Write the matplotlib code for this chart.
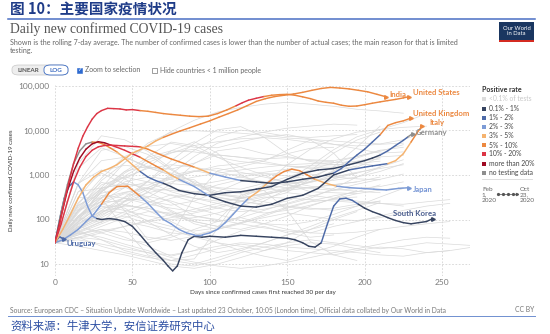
import numpy as np
import matplotlib
matplotlib.use("Agg")
import matplotlib.pyplot as plt
from matplotlib.collections import LineCollection
from matplotlib.patches import FancyBboxPatch, Rectangle
from matplotlib.lines import Line2D

plt.rcParams['font.family'] = ['Lato', 'DejaVu Sans']

# ---------------- data ----------------
rate_labels = ['<0.1% of tests', '0.1% - 1%', '1% - 2%', '2% - 3%', '3% - 5%',
               '5% - 10%', '10% - 20%', 'more than 20%', 'no testing data']
rate_colors = ['#dcdcdc', '#36435f', '#4d6aa8', '#7c9bd6', '#f5b36f',
               '#ec8840', '#dc3545', '#9f0a22', '#8e8e8e']

x_ticks = [0, 50, 100, 150, 200, 250]
y_ticks = [10, 100, 1000, 10000, 100000]
y_tick_labels = ['10', '100', '1,000', '10,000', '100,000']

us_days = [0, 3, 6, 9, 12, 15, 18, 21, 24, 27, 30, 34, 38, 42, 46, 50, 55, 60, 65, 70,
           75, 81, 87, 93, 99, 105, 111, 117, 121, 125, 130, 135, 140, 145, 150, 155, 160,
           165, 170, 175, 180, 185, 190, 195, 200, 205, 210, 215, 220, 225, 229]
us_cases = [30, 80, 250, 700, 1800, 4000, 7500, 12000, 18000, 24000, 28000, 31500, 31000,
            30500, 29000, 29500, 28000, 27000, 25500, 24000, 23000, 22000, 21000, 20500,
            21000, 24000, 29000, 36000, 42000, 48000, 53000, 58000, 62000, 64000, 65000,
            62000, 57000, 52000, 46000, 43000, 41000, 37000, 35000, 35500, 38000, 41000,
            44000, 47000, 50000, 54000, 58000]
us_rate_from = [0, 55, 117, 135]
us_rate = ['10% - 20%', '5% - 10%', '10% - 20%', '5% - 10%']

india_days = [0, 5, 10, 15, 20, 25, 30, 35, 40, 45, 50, 55, 60, 65, 70, 75, 81, 87, 94, 100,
              106, 112, 118, 124, 130, 136, 142, 148, 154, 160, 166, 172, 178, 184, 190, 196,
              202, 208, 214]
india_cases = [30, 60, 130, 300, 600, 900, 1200, 1400, 1700, 2300, 3100, 3700, 4500, 5800,
               7000, 8200, 9800, 11500, 14000, 16500, 20000, 24000, 29000, 36000, 45000,
               52000, 58000, 62000, 66000, 72000, 80000, 88000, 93000, 90000, 86000, 80000,
               74000, 65000, 57000]
india_rate_from = [0, 70]
india_rate = ['3% - 5%', '5% - 10%']

uk_days = [0, 4, 8, 12, 16, 20, 24, 28, 32, 36, 40, 45, 50, 55, 60, 65, 70, 75, 80, 90,
           100, 110, 120, 130, 140, 150, 160, 170, 175, 180, 185, 190, 195, 200, 205, 210,
           215, 220, 225, 230]
uk_cases = [30, 80, 250, 700, 1500, 2600, 3600, 4300, 4600, 4700, 4600, 4500, 4400, 4300,
            3800, 3200, 2700, 2300, 2000, 1500, 1100, 900, 750, 700, 650, 700, 800, 900,
            1000, 1100, 1400, 2000, 2800, 3800, 5500, 8000, 13000, 15000, 16500, 19000]
uk_rate_from = [0, 55, 85, 100, 120, 180, 208]
uk_rate = ['10% - 20%', '5% - 10%', '3% - 5%', '2% - 3%', '0.1% - 1%', '1% - 2%', '5% - 10%']

italy_days = [0, 4, 8, 12, 16, 20, 24, 28, 32, 36, 40, 45, 50, 55, 60, 65, 70, 75, 80, 90,
              100, 110, 120, 130, 140, 150, 160, 170, 180, 190, 200, 205, 210, 215, 220, 225,
              230, 234, 237]
italy_cases = [30, 120, 450, 1200, 2400, 3800, 5000, 5600, 5300, 4700, 4200, 3600, 3000,
               2500, 2000, 1600, 1300, 1000, 800, 550, 330, 250, 200, 190, 220, 300, 350,
               500, 1000, 1300, 1500, 1600, 1700, 1800, 2100, 3000, 5500, 9000, 12500]
italy_rate_from = [0, 36, 55, 70, 80, 100, 190, 215, 228]
italy_rate = ['more than 20%', '10% - 20%', '5% - 10%', '3% - 5%', '2% - 3%', '0.1% - 1%',
              '1% - 2%', '3% - 5%', '5% - 10%']

germany_days = [0, 4, 8, 12, 16, 20, 24, 28, 32, 36, 40, 45, 50, 55, 60, 65, 70, 75, 80, 90,
                100, 110, 120, 130, 140, 150, 160, 170, 180, 190, 200, 205, 210, 215, 220,
                225, 228, 231]
germany_cases = [30, 150, 600, 1800, 3500, 5000, 5500, 5400, 4800, 4000, 3300, 2400, 1700,
                 1200, 900, 750, 650, 550, 450, 380, 350, 400, 420, 480, 550, 800, 1100,
                 1300, 1400, 1700, 2100, 2400, 2800, 3500, 4600, 6000, 7200, 8500]
germany_rate_from = [0, 24, 40, 55, 70, 210, 226]
germany_rate = ['no testing data', '5% - 10%', '3% - 5%', '1% - 2%', '0.1% - 1%', '1% - 2%',
                'no testing data']

japan_days = [0, 5, 10, 15, 20, 25, 30, 35, 40, 47, 55, 60, 65, 70, 75, 80, 85, 90, 95, 100,
              105, 110, 115, 120, 125, 131, 137, 143, 148, 153, 158, 163, 168, 175, 182,
              190, 198, 206, 214, 222, 229]
japan_cases = [30, 35, 45, 60, 90, 130, 220, 400, 550, 560, 330, 230, 150, 100, 80, 60, 50,
               45, 45, 50, 60, 85, 130, 200, 300, 420, 650, 950, 1200, 1350, 1250, 1000,
               800, 650, 560, 520, 500, 480, 460, 500, 520]
japan_rate_from = [0, 28, 55, 125, 137, 165, 178]
japan_rate = ['2% - 3%', '5% - 10%', '2% - 3%', '3% - 5%', '5% - 10%', '3% - 5%', '2% - 3%']

korea_days = [0, 3, 6, 9, 12, 15, 18, 21, 24, 27, 30, 35, 40, 45, 50, 55, 60, 65, 70, 73,
              76, 79, 82, 86, 90, 95, 100, 110, 120, 130, 140, 150, 155, 160, 164, 168, 172,
              176, 180, 184, 188, 192, 196, 200, 205, 210, 215, 220, 225, 230, 235, 240, 244]
korea_cases = [30, 100, 300, 550, 700, 600, 400, 200, 120, 105, 100, 105, 100, 90, 70, 45,
               28, 18, 12, 9, 7, 9, 18, 35, 42, 40, 42, 40, 44, 42, 40, 38, 35, 30, 25, 24,
               30, 80, 200, 290, 300, 270, 220, 180, 150, 130, 110, 95, 85, 80, 85, 90, 105]
korea_rate_from = [0, 12, 25, 172, 194]
korea_rate = ['1% - 2%', '2% - 3%', '0.1% - 1%', '1% - 2%', '0.1% - 1%']

uruguay_days = [0, 1, 2, 3, 4, 5, 6]
uruguay_cases = [30, 34, 38, 41, 39, 37, 36]
uruguay_rate_from = [0]
uruguay_rate = ['1% - 2%']

# other countries, one value every 15 days since reaching 30 per day
gray_step = 15
gray_large = [
    [30, 1800, 7600, 6200, 3400, 1400, 650, 380, 330, 600, 1700, 3800, 6500, 9200, 10500, 11800, 12500],
    [30, 160, 750, 1900, 4600, 9500, 17000, 26000, 33000, 39000, 43000, 39000, 35000, 30000, 27500, 24500],
    [30, 650, 3600, 4400, 2900, 1300, 650, 420, 390, 520, 760, 1600, 3700, 7200, 10500, 15000, 24000],
    [30, 90, 520, 1900, 5200, 9100, 9900, 9300, 8700, 7900, 6800, 6300, 5800, 5300, 5000, 6200, 9500],
    [30, 110, 420, 950, 1900, 3100, 4600, 5600, 6500, 6900, 6300, 5400, 4900, 4500, 4900, 5200],
    [30, 220, 850, 2600, 4400, 5100, 4200, 4100, 5600, 7100, 8100, 6400, 4900, 3900, 3100, 3300],
    [30, 60, 160, 320, 720, 1600, 3600, 7200, 10200, 9000, 7400, 7000, 7600, 8100],
    [30, 65, 110, 210, 420, 1050, 2600, 5200, 7100, 9200, 11300, 12600, 13900, 13200],
    [30, 110, 85, 260, 720, 2100, 5200, 10400, 12200, 7100, 3000, 2000, 1700, 1800, 1600],
    [30, 620, 2100, 2500, 1500, 1350, 1850, 2850, 2500, 2300, 2450, 2200, 2100, 2600, 3600, 4200],
    [30, 1400, 4100, 2600, 1500, 1000, 1250, 1000, 1050, 1150, 1350, 1650, 1700, 1800, 2050],
    [30, 310, 1250, 1650, 1450, 1000, 610, 360, 310, 360, 460, 720, 1250, 2050, 2550, 2750],
]
gray_mid = [
    [30, 650, 1300, 820, 410, 240, 120, 95, 310, 520, 410, 820, 1550, 4200, 12500],
    [30, 420, 1100, 620, 260, 150, 80, 60, 210, 560, 710, 1250, 3100, 6100, 9200],
    [30, 160, 520, 610, 590, 920, 780, 310, 260, 210, 260, 420, 820, 1100],
    [30, 210, 390, 520, 2600, 5500, 4600, 2500, 2000, 1800, 1600, 1500, 1500, 1400],
    [30, 110, 410, 1100, 2200, 3200, 3800, 2500, 1500, 1000, 620, 420, 400, 380],
    [30, 160, 310, 820, 1500, 3500, 5600, 3100, 1000, 610, 510, 520, 610, 700],
    [30, 110, 420, 1200, 2500, 3500, 3300, 2800, 2500, 2000, 1600, 1400, 1300],
    [30, 160, 250, 260, 310, 620, 1800, 3500, 4100, 3000, 2600, 2100, 2000],
    [30, 110, 310, 410, 520, 820, 1200, 1600, 1800, 2200, 3000, 4000, 4200],
    [30, 420, 510, 160, 35, 45, 320, 1250, 1550, 2050, 3600, 6100, 3100, 850],
    [30, 310, 300, 62, 16, 12, 13, 62, 360, 450, 160, 32, 16, 12],
    [30, 150, 450, 900, 1400, 1700, 1500, 1200, 900, 700, 600, 500, 450, 500, 550, 700],
    [30, 70, 140, 260, 480, 700, 900, 1100, 1300, 1500, 1700, 1800, 1900, 2000, 2300],
    [30, 200, 500, 650, 500, 350, 250, 180, 150, 170, 220, 300, 500, 900, 1500, 2200],
    [30, 120, 350, 300, 220, 180, 150, 200, 260, 350, 500, 700, 1000, 1500, 2500],
    [30, 100, 300, 700, 900, 800, 600, 500, 400, 450, 600, 800, 1200, 1600],
    [30, 50, 80, 130, 200, 300, 400, 600, 800, 700, 650, 700, 900, 1100, 1500],
    [30, 90, 260, 520, 700, 640, 580, 720, 900, 1100, 950, 800, 760, 900, 1200, 1800],
    [30, 140, 480, 1200, 1600, 1100, 700, 520, 480, 650, 900, 1300, 1900, 2600, 3400, 4800],
    [30, 65, 140, 310, 520, 880, 1200, 1400, 1150, 900, 700, 560, 480, 430, 400],
    [30, 240, 680, 540, 300, 160, 90, 70, 120, 260, 480, 900, 1500, 2400, 3600],
    [30, 120, 220, 300, 260, 210, 260, 420, 700, 980, 1200, 1050, 900, 820, 780],
    [30, 180, 600, 900, 700, 420, 300, 260, 300, 380, 450, 520, 600, 700, 900],
]
gray_low = [
    [30, 45, 60, 40, 25, 15, 20, 35, 55, 70, 50, 40, 45],
    [30, 55, 90, 120, 80, 60, 40, 30, 25, 20, 30, 60, 100, 150],
    [30, 80, 150, 200, 180, 120, 90, 70, 60, 80, 120, 200, 300, 450],
    [30, 40, 35, 25, 18, 12, 10, 14, 20, 30, 45, 60, 80],
    [30, 60, 120, 250, 400, 500, 420, 380, 300, 250, 200, 180, 160, 200, 260],
    [30, 90, 200, 160, 120, 100, 110, 140, 200, 300, 400, 350, 300, 320],
    [30, 70, 50, 35, 30, 40, 60, 90, 110, 80, 60, 50, 70, 90, 120, 160, 200, 230],
    [30, 40, 55, 70, 90, 110, 140, 180, 250, 320, 300, 280, 260, 240, 230, 220, 250, 280],
    [30, 35, 28, 22, 18, 16, 20, 25, 30, 28, 24, 22, 20, 18, 16, 15, 18, 20],
    [30, 60, 100, 90, 70, 50, 45, 60, 80, 120, 180, 250, 280, 260, 230, 200],
    [30, 80, 180, 220, 160, 90, 50, 30, 20, 15, 12, 18, 25, 40, 60],
    [30, 25, 20, 16, 12, 9, 8, 10, 14, 20, 26, 30, 28, 22, 18],
    [30, 120, 260, 400, 500, 450, 380, 320, 260, 220, 190, 170, 180, 220, 260],
    [30, 45, 70, 110, 150, 140, 120, 100, 80, 65, 55, 50, 48, 52, 60, 70, 80, 90],
    [30, 50, 40, 28, 20, 14, 11, 9, 8, 9, 11, 14, 18, 22, 28, 35, 40, 38],
    [30, 110, 220, 180, 90, 45, 25, 18, 22, 30, 45, 70, 110, 160, 240],
    [30, 40, 25, 18, 14, 12, 16, 22, 28, 24, 20, 18, 16, 20, 24, 22, 18, 20, 24],
    [30, 55, 35, 20, 15, 10, 9, 12, 18, 24, 30, 35, 30, 26, 22, 25, 30, 28, 26],
    [30, 52, 88, 150, 240, 360, 300, 230, 170, 140, 160, 210, 290, 380, 460, 520],
    [30, 75, 160, 140, 95, 70, 55, 65, 85, 130, 190, 260, 340, 420, 600],
    [30, 38, 50, 70, 95, 130, 170, 230, 300, 390, 520, 680, 900, 1150, 1400, 1700],
    [30, 85, 230, 380, 330, 260, 180, 130, 95, 80, 75, 90, 130, 200, 320, 500],
    [30, 48, 60, 52, 40, 34, 42, 60, 85, 110, 140, 120, 100, 95, 110, 140, 160],
    [30, 66, 130, 210, 180, 130, 100, 90, 110, 160, 230, 330, 460, 620, 800, 1050],
]

# ---------------- figure ----------------
W, H = 550, 334
fig = plt.figure(figsize=(W / 100, H / 100), dpi=100)
fig.patch.set_facecolor('white')


def fx(px):
    return px / W


def fy(py):
    return 1 - py / H


rate_color = dict(zip(rate_labels, rate_colors))

ax_left, ax_right, ax_top, ax_bottom = 55, 470, 85, 276
ax = fig.add_axes([fx(ax_left), fy(ax_bottom), (ax_right - ax_left) / W, (ax_bottom - ax_top) / H])
ax.set_yscale('log')
ax.set_xlim(0, (ax_right - ax_left) / 1.548)
ax.set_ylim(10 ** (1 - 12 / 44.5), 10 ** (5 + 1 / 44.5))
for s in ax.spines.values():
    s.set_visible(False)
ax.set_xticks(x_ticks)
ax.set_xticklabels([str(t) for t in x_ticks])
ax.set_yticks(y_ticks)
ax.set_yticklabels(y_tick_labels)
ax.yaxis.set_minor_locator(matplotlib.ticker.NullLocator())
ax.tick_params(length=0, labelsize=6, labelcolor='#7a7a7a')
ax.tick_params(axis='x', pad=2)
ax.tick_params(axis='y', pad=4)
ax.grid(True, which='major', color='#d4d4d4', linestyle=(0, (2, 2)), linewidth=0.6)
ax.set_axisbelow(True)

# background countries
for group in (gray_large, gray_mid, gray_low):
    for vals in group:
        d = np.arange(len(vals)) * gray_step
        ax.plot(d, vals, color='#dadada', lw=0.5, zorder=1, solid_joinstyle='round')


def draw_country(days, cases, rate_from, rate):
    d = np.asarray(days, float)
    c = np.asarray(cases, float)
    pts = np.column_stack([d, c])
    segs = np.stack([pts[:-1], pts[1:]], axis=1)
    idx = np.searchsorted(rate_from, d[:-1], side='right') - 1
    cols = [rate_color[rate[i]] for i in idx]
    lc = LineCollection(segs, colors=cols, linewidths=1.05, capstyle='round',
                        joinstyle='round', zorder=3)
    ax.add_collection(lc)
    ax.plot(d[-1], c[-1], marker='>', ms=2.6, color=cols[-1], mec=cols[-1], zorder=4)
    return d[-1], c[-1]


countries = [
    ('Uruguay', uruguay_days, uruguay_cases, uruguay_rate_from, uruguay_rate, '#4d6aa8', (1.8, -2.8), 'left'),
    ('South Korea', korea_days, korea_cases, korea_rate_from, korea_rate, '#4a5d8e', (2.5, 3.8), 'right'),
    ('Japan', japan_days, japan_cases, japan_rate_from, japan_rate, '#7393d4', (2.5, -1.6), 'left'),
    ('Germany', germany_days, germany_cases, germany_rate_from, germany_rate, '#8e8e8e', (2.5, 1.0), 'left'),
    ('Italy', italy_days, italy_cases, italy_rate_from, italy_rate, '#ec8840', (5.5, 2.4), 'left'),
    ('United Kingdom', uk_days, uk_cases, uk_rate_from, uk_rate, '#ec8840', (1.5, 3.0), 'left'),
    ('India', india_days, india_cases, india_rate_from, india_rate, '#ec8840', (2.5, 1.6), 'left'),
    ('United States', us_days, us_cases, us_rate_from, us_rate, '#ec8840', (2.5, 2.6), 'left'),
]
for name, d, c, rf, r, col, off, ha in countries:
    ex, ey = draw_country(d, c, rf, r)
    ax.annotate(name, xy=(ex, ey), xytext=off, textcoords='offset points',
                fontsize=5.6, fontweight='bold', color=col, ha=ha, va='center',
                annotation_clip=False, zorder=5)

ax.set_xlabel('Days since confirmed cases first reached 30 per day', fontsize=4.6,
              color='#333333', labelpad=3)
fig.text(fx(12), fy(180), 'Daily new confirmed COVID-19 cases', rotation=90,
         fontsize=4.4, color='#333333', ha='center', va='center')

# ---------------- header ----------------
fig.text(fx(10), fy(9.5), '图 10：主要国家疫情状况', fontsize=10.5, fontweight='bold',
         color='#1f3c88', va='center', family=['Noto Sans CJK SC', 'DejaVu Sans'])
fig.add_artist(Line2D([fx(8), fx(535)], [fy(18.5), fy(18.5)], color='#4a6fc4', lw=1.1))
fig.text(fx(10), fy(29), 'Daily new confirmed COVID-19 cases', fontsize=9.8,
         family='Liberation Serif', color='#555555', va='center')
fig.text(fx(10), fy(42), 'Shown is the rolling 7-day average. The number of confirmed cases is '
         'lower than the number of actual cases; the main reason for that is limited',
         fontsize=5.1, color='#666666', va='center')
fig.text(fx(10), fy(50.5), 'testing.', fontsize=5.1, color='#666666', va='center')

# scale toggle and options
fig.add_artist(FancyBboxPatch((fx(12), fy(75)), fx(56), 10 / H,
                              boxstyle='round,pad=0,rounding_size=0.012',
                              fc='#eeeeee', ec='#c8c8c8', lw=0.5, transform=fig.transFigure))
fig.add_artist(FancyBboxPatch((fx(44), fy(75)), fx(24), 10 / H,
                              boxstyle='round,pad=0,rounding_size=0.012',
                              fc='white', ec='#3d6cc2', lw=0.6, transform=fig.transFigure))
fig.text(fx(28), fy(70), 'LINEAR', fontsize=4.5, fontweight='bold', color='#555555',
         ha='center', va='center')
fig.text(fx(56), fy(70), 'LOG', fontsize=4.5, fontweight='bold', color='#3d6cc2',
         ha='center', va='center')
fig.add_artist(Rectangle((fx(77), fy(72.5)), fx(5), 5 / H, fc='#2d6ad0', ec='#2d6ad0',
                         lw=0.4, transform=fig.transFigure))
fig.text(fx(79.5), fy(70), '✓', fontsize=4, color='white', ha='center', va='center',
         family='DejaVu Sans')
fig.text(fx(85), fy(70), 'Zoom to selection', fontsize=5, color='#666666', va='center')
fig.add_artist(Rectangle((fx(152), fy(72.5)), fx(5), 5 / H, fc='white', ec='#777777',
                         lw=0.5, transform=fig.transFigure))
fig.text(fx(160), fy(70), 'Hide countries < 1 million people', fontsize=5, color='#666666',
         va='center')

# logo
fig.add_artist(Rectangle((fx(499), fy(42)), fx(35), 20 / H, fc='#1a3660', ec='none',
                         transform=fig.transFigure))
fig.add_artist(Rectangle((fx(499), fy(42)), fx(35), 2.2 / H, fc='#d42b21', ec='none',
                         transform=fig.transFigure))
fig.text(fx(516.5), fy(31), 'Our World\nin Data', fontsize=4.2, color='white', ha='center',
         va='center', linespacing=0.95)

# ---------------- legend ----------------
fig.text(fx(482), fy(89), 'Positive rate', fontsize=5, fontweight='bold', color='#333333',
         va='center')
leg_y = [99, 108.5, 118, 127, 136, 145, 154, 163.5, 173]
for lab, col, yy in zip(rate_labels, rate_colors, leg_y):
    fig.add_artist(Rectangle((fx(482), fy(yy + 2)), fx(4), 4 / H, fc=col, ec='none',
                             transform=fig.transFigure))
    fig.text(fx(489), fy(yy), lab, fontsize=4.9,
             color='#c8c8c8' if lab.startswith('<') else '#444444', va='center')
fig.add_artist(Line2D([fx(482), fx(532)], [fy(179), fy(179)], color='#d8d8d8', lw=0.6))
fig.text(fx(482), fy(195), 'Feb\n1,\n2020', fontsize=4.6, color='#666666', va='center',
         linespacing=1.1)
fig.text(fx(520), fy(195), 'Oct\n23,\n2020', fontsize=4.6, color='#666666', va='center',
         linespacing=1.1)
fig.add_artist(Line2D([fx(498), fx(517)], [fy(194), fy(194)], color='#555555', lw=0.5))
for px in (498, 503, 508, 513):
    fig.add_artist(Line2D([fx(px)], [fy(194)], marker='o', ms=1.3, color='#555555'))
fig.add_artist(Line2D([fx(517)], [fy(194)], marker='>', ms=1.6, color='#555555'))

# ---------------- footer ----------------
fig.text(fx(10), fy(310), 'Source: European CDC – Situation Update Worldwide – Last updated '
         '23 October, 10:05 (London time), Official data collated by Our World in Data',
         fontsize=4.85, color='#777777', va='center')
fig.text(fx(534), fy(310), 'CC BY', fontsize=4.85, color='#777777', va='center', ha='right')
fig.add_artist(Line2D([fx(8), fx(535)], [fy(316), fy(316)], color='#6f8fd0', lw=0.7))
fig.text(fx(10), fy(326), '资料来源：牛津大学，安信证券研究中心', fontsize=8.2,
         color='#2d4fa3', va='center', family=['Noto Sans CJK SC', 'DejaVu Sans'])

fig.savefig('out.png', dpi=100)
